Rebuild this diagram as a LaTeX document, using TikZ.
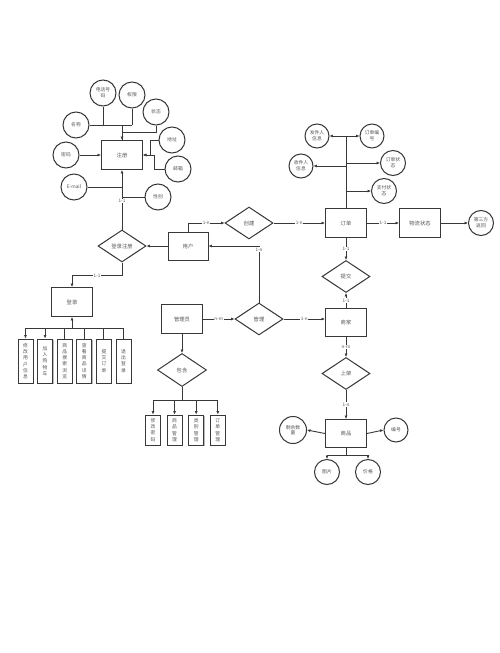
\documentclass[tikz,border=0pt]{standalone}
\usepackage{fontspec}
\setmainfont{Noto Sans CJK SC}
\usetikzlibrary{shapes.geometric,arrows.meta,positioning,shadows}

\definecolor{erline}{HTML}{383838}
\definecolor{ertext}{HTML}{555555}

\begin{document}
\begin{tikzpicture}[
  x=1pt, y=-1pt,
  ent/.style={draw=erline, fill=white, line width=1pt, minimum width=41pt, minimum height=29pt,
    font=\fontsize{5.3}{6.3}\selectfont, text=ertext, inner sep=1pt, align=center,
    drop shadow={shadow xshift=0.9pt, shadow yshift=-0.9pt, fill=erline!50, opacity=0.7}},
  rel/.style={diamond, draw=erline, fill=white, line width=1pt, minimum width=48pt,
    minimum height=32pt, inner sep=0pt, font=\fontsize{5.3}{6.3}\selectfont, text=ertext},
  attr/.style={circle, draw=erline, fill=white, line width=1pt, minimum size=26pt,
    inner sep=0pt, font=\fontsize{4.8}{5.8}\selectfont, text=ertext, align=center},
  vbox/.style={ent, minimum width=15pt, minimum height=30pt, font=\fontsize{4.8}{6.3}\selectfont},
  arr/.style={-{Latex[length=3.4pt,width=3pt]}, erline, line width=0.9pt},
  ln/.style={erline, line width=0.9pt},
  card/.style={font=\fontsize{4.6}{4.6}\selectfont, text=ertext, fill=white, inner sep=0.6pt},
]
  \useasboundingbox[fill=white] (0,0) rectangle (500,653);

  % Register entity and its attributes
  \node[ent] (zhuce) at (122,155) {注册};
  \node[attr] (dianhua) at (103,93) {电话号\\码};
  \node[attr] (quanxian) at (132,95) {权限};
  \node[attr] (zhuangtai) at (156,112) {状态};
  \node[attr] (mingcheng) at (76,125) {名称};
  \node[attr] (mima) at (66,155) {密码};
  \node[attr] (dizhi) at (172,140) {地址};
  \node[attr] (youxiang) at (178,169) {邮箱};
  \node[attr] (email) at (74,187) {E-mail};
  \node[attr] (xingbie) at (158,197) {性别};

  \draw[ln] (mingcheng.east) -- (mingcheng.east -| quanxian.south);
  \draw[ln] (dianhua.south) -- (dianhua.south |- mingcheng.east);
  \draw[ln] (quanxian.south) -- (quanxian.south |- mingcheng.east);
  \draw[ln] (zhuangtai.south) -- ++(0,7) -| (zhuce.north);
  \draw[arr] (zhuce.north |- mingcheng.east) -- (zhuce.north);
  \draw[arr] (mima.east) -- (zhuce.west);
  \draw[arr] (dizhi.west) -- ++(-8,0) |- (zhuce.east);
  \draw[arr] (youxiang.west) -- ++(-10,0) |- (zhuce.east);
  \draw[ln] (email.east) -- (email.east -| zhuce.south);
  \draw[ln] (xingbie.west) -- (xingbie.west -| zhuce.south);

  % User side
  \node[rel] (dlzc) at (122,246) {登录注册};
  \node[ent, minimum width=40pt, minimum height=28pt] (yonghu) at (188,246) {用户};
  \node[ent] (denglu) at (72,302) {登录};

  \draw[arr] (dlzc.north) -- node[card, pos=0.48] {1-1} (zhuce.south);
  \draw[arr] (yonghu.west) -- (dlzc.east);
  \draw[arr] (dlzc.south) -- ++(0,13) -| node[card, pos=0.25] {1-1} (denglu.north);

  % Logged-in functions
  \node[vbox, minimum height=44pt] (xgyh) at (25.5,361) {修\\改\\用\\户\\信\\息};
  \node[vbox, minimum height=44pt, right=3.6pt of xgyh] (jrgwc) {加\\入\\购\\物\\车};
  \node[vbox, minimum height=44pt, right=3.6pt of jrgwc] (sssl) {商\\品\\搜\\索\\浏\\览};
  \node[vbox, minimum height=44pt, right=3.6pt of sssl] (ckxq) {查\\看\\商\\品\\详\\情};
  \node[vbox, minimum height=44pt, right=3.6pt of ckxq] (tjdd) {提\\交\\订\\单};
  \node[vbox, minimum height=44pt, right=3.6pt of tjdd] (tcdl) {退\\出\\登\\录};

  \coordinate (dlbus) at (72,328);
  \draw[arr] (dlbus) -- (denglu.south);
  \draw[ln] (xgyh.north |- dlbus) -- (tcdl.north |- dlbus);
  \draw[arr] (xgyh.north |- dlbus) -- (xgyh.north);
  \draw[arr] (jrgwc.north |- dlbus) -- (jrgwc.north);
  \draw[ln] (sssl.north |- dlbus) -- (sssl.north);
  \draw[ln] (ckxq.north |- dlbus) -- (ckxq.north);
  \draw[ln] (tjdd.north |- dlbus) -- (tjdd.north);
  \draw[ln] (tcdl.north |- dlbus) -- (tcdl.north);

  % Order entity and its attributes
  \node[rel] (chuangjian) at (249,223) {创建};
  \node[ent] (dingdan) at (346,223) {订单};
  \node[ent] (wuliu) at (420,223) {物流状态};
  \node[attr, minimum size=25pt] (disanfang) at (481,223) {第三方\\返回};
  \node[attr, minimum size=24pt] (fajian) at (317,136) {发件人\\信息};
  \node[attr, minimum size=24pt] (ddbh) at (372,136) {订单编\\号};
  \node[attr, minimum size=24pt] (shoujian) at (301,166) {收件人\\信息};
  \node[attr, minimum size=25pt] (ddzt) at (393,163) {订单状\\态};
  \node[attr, minimum size=25pt] (zfzt) at (384,191) {支付状\\态};

  \draw[arr] (yonghu.north) |- node[card, pos=0.75] {1-n} (chuangjian.west);
  \draw[arr] (chuangjian.east) -- node[card] {1-n} (dingdan.west);
  \draw[arr] (dingdan.east) -- node[card] {1-1} (wuliu.west);
  \draw[arr] (wuliu.east) -- (disanfang.west);
  \draw[ln] (dingdan.north) -- (dingdan.north |- fajian.east);
  \draw[arr] (dingdan.north |- fajian.east) -- (fajian.east);
  \draw[arr] (dingdan.north |- ddbh.west) -- (ddbh.west);
  \draw[arr] (dingdan.north |- shoujian.east) -- (shoujian.east);
  \draw[arr] (dingdan.north |- ddzt.west) -- (ddzt.west);
  \draw[arr] (dingdan.north |- zfzt.west) -- (zfzt.west);

  % Admin side
  \node[ent] (guanliyuan) at (182,319) {管理员};
  \node[rel] (guanli) at (259,319) {管理};
  \node[rel, minimum width=49pt, minimum height=33pt] (baohan) at (182,370) {包含};
  \node[vbox] (xgmm) at (153,430) {修\\改\\密\\码};
  \node[vbox, right=5.6pt of xgmm] (spgl) {商\\品\\管\\理};
  \node[vbox, right=5.6pt of spgl] (lbgl) {类\\别\\管\\理};
  \node[vbox, right=5.6pt of lbgl] (ddgl) {订\\单\\管\\理};

  \draw[arr] (guanliyuan.east) -- node[card] {n-m} (guanli.west);
  \draw[arr] (guanli.north) |- node[card, pos=0.47] {1-n} (yonghu.east);
  \draw[arr] (guanliyuan.south) -- (baohan.north);
  \draw[ln] (baohan.south) -- ++(0,13) coordinate (bhbus);
  \draw[ln] (xgmm.north |- bhbus) -- (ddgl.north |- bhbus);
  \draw[arr] (xgmm.north |- bhbus) -- (xgmm.north);
  \draw[arr] (spgl.north |- bhbus) -- (spgl.north);
  \draw[arr] (lbgl.north |- bhbus) -- (lbgl.north);
  \draw[arr] (ddgl.north |- bhbus) -- (ddgl.north);

  % Merchant and goods
  \node[rel, below=22pt of dingdan] (tijiao) {提交};
  \node[ent, minimum height=28pt, below=15pt of tijiao] (shangjia) {商家};
  \node[rel, below=20pt of shangjia] (shangjia2) {上架};
  \node[ent, minimum height=28pt, below=29pt of shangjia2] (shangpin) {商品};
  \node[attr, minimum size=27pt] (shengyu) at (293,430) {剩余数\\量};
  \node[attr, minimum size=24pt] (bianhao) at (396,430) {编号};
  \node[attr, minimum size=25pt] (tupian) at (327,472) {图片};
  \node[attr, minimum size=25pt] (jiage) at (368,472) {价格};

  \draw[arr] (dingdan.south) -- node[card] {1-1} (tijiao.north);
  \draw[arr] (shangjia.north) -- node[card] {1-1} (tijiao.south);
  \draw[arr] (guanli.east) -- node[card] {1-n} (guanli.east -| shangjia.west);
  \draw[arr] (shangjia.south) -- node[card] {n-m} (shangjia2.north);
  \draw[arr] (shangjia2.south) -- node[card] {1-n} (shangpin.north);
  \draw[arr] (shangpin.west) -- (shengyu.east);
  \draw[arr] (shangpin.east) -- (bianhao.west);
  \draw[ln] (shangpin.south) -- ++(0,7) coordinate (spbus);
  \draw[ln] (tupian.north |- spbus) -- (jiage.north |- spbus);
  \draw[arr] (tupian.north |- spbus) -- (tupian.north);
  \draw[arr] (jiage.north |- spbus) -- (jiage.north);
\end{tikzpicture}
\end{document}
